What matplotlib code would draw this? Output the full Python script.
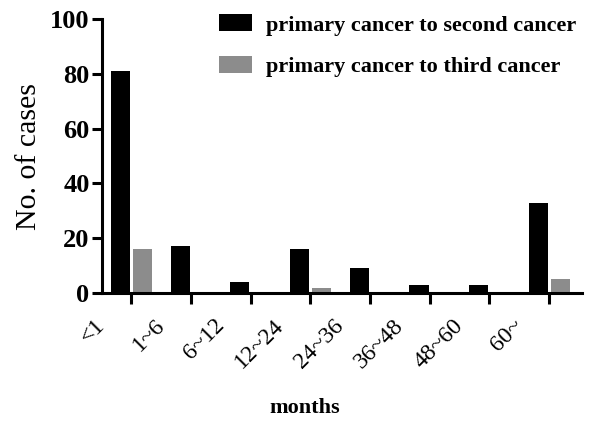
import numpy as np
import matplotlib.pyplot as plt
import matplotlib.transforms as mtransforms

categories = ['<1', '1~6', '6~12', '12~24', '24~36', '36~48', '48~60', '60~']
second_cancer = [81, 17, 4, 16, 9, 3, 3, 33]
third_cancer = [16, 0, 0, 2, 0, 0, 0, 5]

plt.rcParams['font.family'] = ['Liberation Serif', 'DejaVu Serif']

fig = plt.figure(figsize=(6.06, 4.22), dpi=100)
ax = fig.add_axes([102 / 606, 129 / 422, 480 / 606, 274 / 422])

x = np.arange(len(categories))
w = 0.32
ax.bar(x - 0.18, second_cancer, width=w, color='black',
       label='primary cancer to second cancer')
ax.bar(x + 0.19, third_cancer, width=w, color='#8c8c8c',
       label='primary cancer to third cancer')

ax.set_xlim(-0.49, 7.55)
ax.set_ylim(0, 100)
ax.set_yticks(np.arange(0, 101, 20))
ax.set_xticks(x)

for s in ['top', 'right']:
    ax.spines[s].set_visible(False)
for s in ['left', 'bottom']:
    ax.spines[s].set_linewidth(2.2)
ax.tick_params(axis='y', width=2.2, length=7, pad=2)
ax.tick_params(axis='x', width=2.2, length=8, pad=2)

ax.set_xticklabels(categories, rotation=45, ha='right', rotation_mode='anchor',
                   fontsize=17)
# shift rotated labels left/down like the original (after tick_params)
offset = mtransforms.ScaledTranslation(-37 / 100, -8 / 100, fig.dpi_scale_trans)
for lbl in ax.get_xticklabels():
    lbl.set_transform(lbl.get_transform() + offset)

for lbl in ax.get_yticklabels():
    lbl.set_fontsize(19)
    lbl.set_fontweight('bold')

ax.set_ylabel('No. of cases', fontsize=21.5, labelpad=6)
fig.text(305 / 606, 1 - 408 / 422, 'months', fontsize=16, fontweight='bold',
         ha='center', va='center')

leg = ax.legend(loc='upper right', bbox_to_anchor=(1.03, 1.09), frameon=False,
                prop={'weight': 'bold', 'size': 16}, handlelength=1.45,
                handleheight=0.8, handletextpad=0.65, labelspacing=0.9)

fig.savefig('out.png', dpi=100)
